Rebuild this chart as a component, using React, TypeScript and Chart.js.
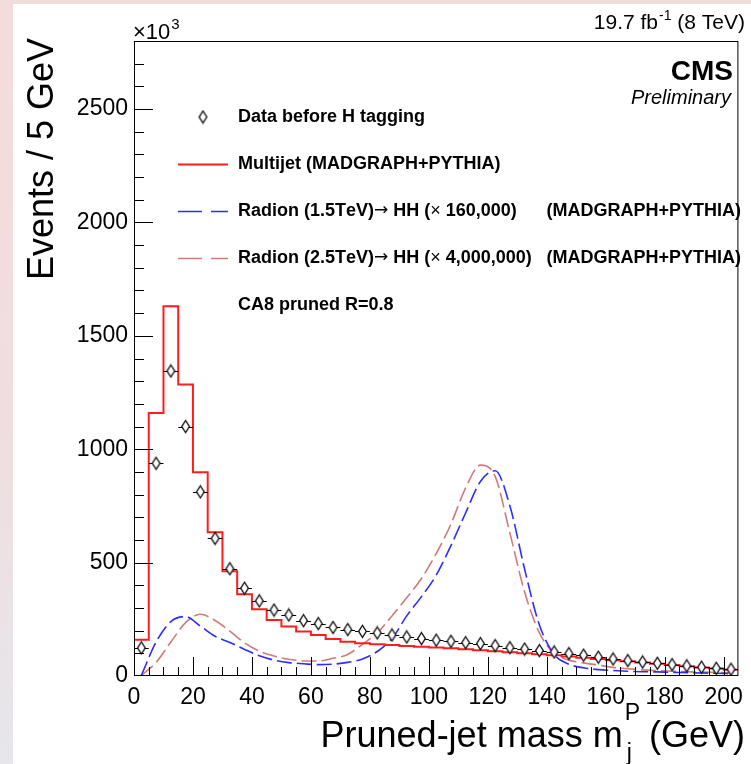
import React, { useEffect, useRef } from "react";
import { Chart, registerables } from "chart.js";

Chart.register(...registerables);

// ---------------- data ----------------
const BIN_WIDTH = 5;
const X_MIN = 0;
const X_MAX = 205;
const Y_MIN = 0;
const Y_MAX = 2800;

const binCenters = [
  2.5, 7.5, 12.5, 17.5, 22.5, 27.5, 32.5, 37.5, 42.5, 47.5,
  52.5, 57.5, 62.5, 67.5, 72.5, 77.5, 82.5, 87.5, 92.5, 97.5,
  102.5, 107.5, 112.5, 117.5, 122.5, 127.5, 132.5, 137.5, 142.5, 147.5,
  152.5, 157.5, 162.5, 167.5, 172.5, 177.5, 182.5, 187.5, 192.5, 197.5,
  202.5,
];

// Data before H tagging (x10^3 events / 5 GeV)
const dataValues = [
  124, 938, 1345, 1100, 812, 607, 473, 387, 331, 291,
  269, 244, 231, 214, 205, 197, 190, 181, 172, 165,
  158, 153, 147, 143, 134, 125, 119, 112, 106, 99,
  92, 83, 75, 68, 62, 56, 50, 45, 39, 34,
  30,
];

// Multijet (MADGRAPH+PYTHIA) histogram
const multijetValues = [
  160, 1160, 1630, 1285, 898, 634, 462, 360, 294, 247,
  218, 196, 181, 163, 151, 144, 140, 137, 132, 129,
  126, 122, 118, 113, 109, 105, 100, 96, 91, 86,
  80, 75, 70, 65, 59, 54, 48, 43, 38, 33,
  28,
];

// Radion (1.5 TeV) -> HH (x 160,000)
const radion15Values = [
  3, 150, 240, 262, 220, 175, 148, 117, 89, 70,
  59, 54, 50, 52, 60, 75, 108, 165, 265, 350,
  445, 575, 720, 858, 905, 750, 470, 225, 95, 52,
  36, 28, 24, 21, 19, 18, 16, 15, 13, 12,
  10,
];

// Radion (2.5 TeV) -> HH (x 4,000,000)
const radion25Values = [
  3, 60, 150, 235, 272, 245, 198, 146, 110, 88,
  74, 66, 66, 78, 95, 140, 190, 265, 345, 430,
  540, 670, 830, 930, 880, 630, 370, 190, 100, 70,
  58, 48, 38, 32, 27, 24, 21, 19, 17, 16,
  15,
];

const xTickValues = [0, 20, 40, 60, 80, 100, 120, 140, 160, 180, 200];
const yTickValues = [0, 500, 1000, 1500, 2000, 2500];

const seriesLabels = [
  "Data before H tagging",
  "Multijet (MADGRAPH+PYTHIA)",
  "Radion (1.5TeV)\u2192 HH (\u00d7 160,000)",
  "Radion (2.5TeV)\u2192 HH (\u00d7 4,000,000)",
];
const generatorSuffix = "(MADGRAPH+PYTHIA)";
const algoLabel = "CA8 pruned R=0.8";

// ---------------- styles ----------------
const FONT = "'Liberation Sans', Arial, Helvetica, sans-serif";
const SYMFONT = "'DejaVu Sans', 'Liberation Sans', sans-serif";
const RED = "rgb(255,28,28)";
const BLUE = "rgb(45,45,255)";
const PINK = "rgb(208,122,122)";
const DASH = [15, 5];

function makeDiamond(): HTMLCanvasElement {
  const c = document.createElement("canvas");
  c.width = 11;
  c.height = 15;
  const g = c.getContext("2d")!;
  g.beginPath();
  g.moveTo(5.5, 1.5);
  g.lineTo(9.3, 7.5);
  g.lineTo(5.5, 13.5);
  g.lineTo(1.7, 7.5);
  g.closePath();
  g.fillStyle = "#ffffff";
  g.fill();
  g.strokeStyle = "#111";
  g.lineWidth = 1.4;
  g.stroke();
  return c;
}

function drawRich(ctx: CanvasRenderingContext2D, text: string, x: number, y: number) {
  let cx = x;
  for (const ch of Array.from(text)) {
    if (ch === "\u2192") {
      ctx.font = `17px ${SYMFONT}`;
    } else if (ch === "\u00d7") {
      ctx.font = `18px ${FONT}`;
    } else {
      ctx.font = `bold 18px ${FONT}`;
    }
    ctx.fillText(ch, cx, y);
    cx += ctx.measureText(ch).width;
  }
}

export default function App() {
  const ref = useRef<HTMLCanvasElement | null>(null);

  useEffect(() => {
    const canvas = ref.current;
    if (!canvas) return;
    const diamond = makeDiamond();

    const decor = {
      id: "decor",
      beforeDatasetDraw(chart: any, args: any) {
        if (args.index !== 0) return;
        const { ctx, chartArea } = chart;
        const xs = chart.scales.x;
        const ys = chart.scales.y;
        ctx.save();
        ctx.beginPath();
        ctx.rect(chartArea.left, chartArea.top, chartArea.right - chartArea.left, chartArea.bottom - chartArea.top);
        ctx.clip();
        ctx.strokeStyle = "#000";
        ctx.lineWidth = 1;
        ctx.beginPath();
        binCenters.forEach((c, i) => {
          const py = Math.round(ys.getPixelForValue(dataValues[i])) + 0.5;
          ctx.moveTo(xs.getPixelForValue(c - BIN_WIDTH / 2), py);
          ctx.lineTo(xs.getPixelForValue(c + BIN_WIDTH / 2), py);
        });
        ctx.stroke();
        ctx.restore();
      },
      afterDraw(chart: any) {
        const { ctx, chartArea } = chart;
        const { left, right, top, bottom } = chartArea;
        const xs = chart.scales.x;
        const ys = chart.scales.y;
        ctx.save();

        // frame
        ctx.strokeStyle = "#000";
        ctx.lineWidth = 1;
        ctx.strokeRect(left + 0.5, top + 0.5, right - left - 1, bottom - top - 1);

        // inward ticks
        ctx.beginPath();
        for (let v = 100; v < Y_MAX; v += 100) {
          const py = Math.round(ys.getPixelForValue(v)) + 0.5;
          const len = v % 500 === 0 ? 19 : 10;
          ctx.moveTo(left, py);
          ctx.lineTo(left + len, py);
        }
        for (let v = 5; v < X_MAX; v += 5) {
          const px = Math.round(xs.getPixelForValue(v)) + 0.5;
          const len = v % 20 === 0 ? 19 : 9;
          ctx.moveTo(px, bottom);
          ctx.lineTo(px, bottom - len);
        }
        ctx.stroke();

        ctx.fillStyle = "#000";
        ctx.textBaseline = "alphabetic";

        // y title
        ctx.save();
        ctx.translate(53, 38);
        ctx.rotate(-Math.PI / 2);
        ctx.textAlign = "right";
        ctx.font = `36px ${FONT}`;
        ctx.fillText("Events / 5 GeV", 0, 0);
        ctx.restore();

        // x title with m_j^P
        {
          const base = 747;
          let x = 745;
          ctx.font = `36px ${FONT}`;
          ctx.textAlign = "right";
          ctx.fillText("(GeV)", x, base);
          x -= ctx.measureText("(GeV)").width + 9;
          ctx.font = `23px ${FONT}`;
          const wP = ctx.measureText("P").width;
          const xs0 = x - wP;
          ctx.textAlign = "left";
          ctx.fillText("P", xs0, base - 27);
          ctx.fillText("j", xs0 + 2, base + 13);
          ctx.font = `36px ${FONT}`;
          ctx.textAlign = "right";
          ctx.fillText("Pruned-jet mass m", xs0 - 2, base);
        }

        // x10^3
        ctx.textAlign = "left";
        ctx.font = `22px ${FONT}`;
        ctx.fillText("\u00d710", 133, 39);
        const w10 = ctx.measureText("\u00d710").width;
        ctx.font = `15px ${FONT}`;
        ctx.fillText("3", 133 + w10 + 1, 29);

        // lumi label
        {
          ctx.textAlign = "right";
          let x = 745;
          ctx.font = `21px ${FONT}`;
          ctx.fillText(" (8 TeV)", x, 29);
          x -= ctx.measureText(" (8 TeV)").width;
          ctx.font = `14px ${FONT}`;
          ctx.fillText("-1", x, 20);
          x -= ctx.measureText("-1").width + 1;
          ctx.font = `21px ${FONT}`;
          ctx.fillText("19.7 fb", x, 29);
        }

        // CMS Preliminary
        ctx.textAlign = "right";
        ctx.font = `bold 28px ${FONT}`;
        ctx.fillText("CMS", 733, 80);
        ctx.font = `italic 20px ${FONT}`;
        ctx.fillText("Preliminary", 731, 104);

        // legend
        const ds = chart.data.datasets;
        const rowY = [117, 164, 211, 258, 305];
        const textX = 238;
        const l0 = 178;
        const l1 = 228;
        ctx.textBaseline = "middle";
        ctx.drawImage(diamond, 203 - diamond.width / 2, rowY[0] - diamond.height / 2);
        for (let i = 1; i < 4; i++) {
          ctx.save();
          ctx.strokeStyle = ds[i].borderColor;
          ctx.lineWidth = ds[i].borderWidth;
          ctx.setLineDash(i === 1 ? [] : [24, 9]);
          ctx.beginPath();
          ctx.moveTo(l0, rowY[i] + 0.5);
          ctx.lineTo(l1, rowY[i] + 0.5);
          ctx.stroke();
          ctx.restore();
        }
        ctx.fillStyle = "#000";
        ctx.textAlign = "left";
        for (let i = 0; i < 4; i++) {
          drawRich(ctx, ds[i].label, textX, rowY[i]);
        }
        ctx.font = `bold 18px ${FONT}`;
        ctx.textAlign = "right";
        ctx.fillText(generatorSuffix, 741, rowY[2]);
        ctx.fillText(generatorSuffix, 741, rowY[3]);
        ctx.textAlign = "left";
        ctx.fillText(algoLabel, textX, rowY[4]);

        ctx.restore();
      },
    };

    const stepPoints = multijetValues.map((v, i) => ({ x: binCenters[i] - BIN_WIDTH / 2, y: v }));
    stepPoints.push({ x: binCenters[binCenters.length - 1] + BIN_WIDTH / 2, y: multijetValues[multijetValues.length - 1] });

    const chart = new Chart(canvas, {
      type: "line",
      data: {
        datasets: [
          {
            label: seriesLabels[0],
            data: binCenters.map((c, i) => ({ x: c, y: dataValues[i] })),
            showLine: false,
            pointStyle: diamond as any,
            pointRadius: 5,
            borderColor: "#111",
            backgroundColor: "#fff",
          },
          {
            label: seriesLabels[1],
            data: stepPoints,
            stepped: "before",
            borderColor: RED,
            borderWidth: 2,
            pointRadius: 0,
            fill: false,
          },
          {
            label: seriesLabels[2],
            data: binCenters.map((c, i) => ({ x: c, y: radion15Values[i] })),
            borderColor: BLUE,
            borderWidth: 1.6,
            borderDash: DASH,
            cubicInterpolationMode: "monotone",
            pointRadius: 0,
            fill: false,
          },
          {
            label: seriesLabels[3],
            data: binCenters.map((c, i) => ({ x: c, y: radion25Values[i] })),
            borderColor: PINK,
            borderWidth: 1.6,
            borderDash: DASH,
            cubicInterpolationMode: "monotone",
            pointRadius: 0,
            fill: false,
          },
        ],
      } as any,
      options: {
        responsive: false,
        animation: false,
        devicePixelRatio: 1,
        layout: { padding: { left: 0, right: 5, top: 41, bottom: 0 } },
        plugins: { legend: { display: false }, tooltip: { enabled: false } },
        scales: {
          x: {
            type: "linear",
            position: "bottom",
            min: X_MIN,
            max: X_MAX,
            grid: { display: false, drawTicks: false },
            border: { display: false },
            ticks: {
              color: "#000",
              font: { size: 23, family: FONT },
              padding: 8,
              maxRotation: 0,
              autoSkip: false,
              callback: (v: any) => String(v),
            },
            afterBuildTicks: (s: any) => {
              s.ticks = xTickValues.map((v) => ({ value: v }));
            },
            afterFit: (s: any) => {
              s.height = 88;
            },
          },
          y: {
            type: "linear",
            position: "left",
            min: Y_MIN,
            max: Y_MAX,
            grid: { display: false, drawTicks: false },
            border: { display: false },
            ticks: {
              color: "#000",
              font: { size: 23, family: FONT },
              padding: 6,
              autoSkip: false,
              callback: (v: any) => String(v),
            },
            afterBuildTicks: (s: any) => {
              s.ticks = yTickValues.map((v) => ({ value: v }));
            },
            afterFit: (s: any) => {
              s.width = 134;
            },
          },
        },
      } as any,
      plugins: [decor],
    });

    return () => chart.destroy();
  }, []);

  return (
    <div
      style={{
        position: "fixed",
        left: 0,
        top: 0,
        width: 751,
        height: 764,
        overflow: "hidden",
        background: "linear-gradient(180deg, #f3dcdc 0%, #f0dede 55%, #e6e6ec 100%)",
      }}
    >
      <div style={{ position: "absolute", left: 13, top: 4, width: 738, height: 760, background: "#fff" }} />
      <canvas
        ref={ref}
        width={751}
        height={764}
        style={{ position: "absolute", left: 0, top: 0, width: 751, height: 764 }}
      />
    </div>
  );
}
